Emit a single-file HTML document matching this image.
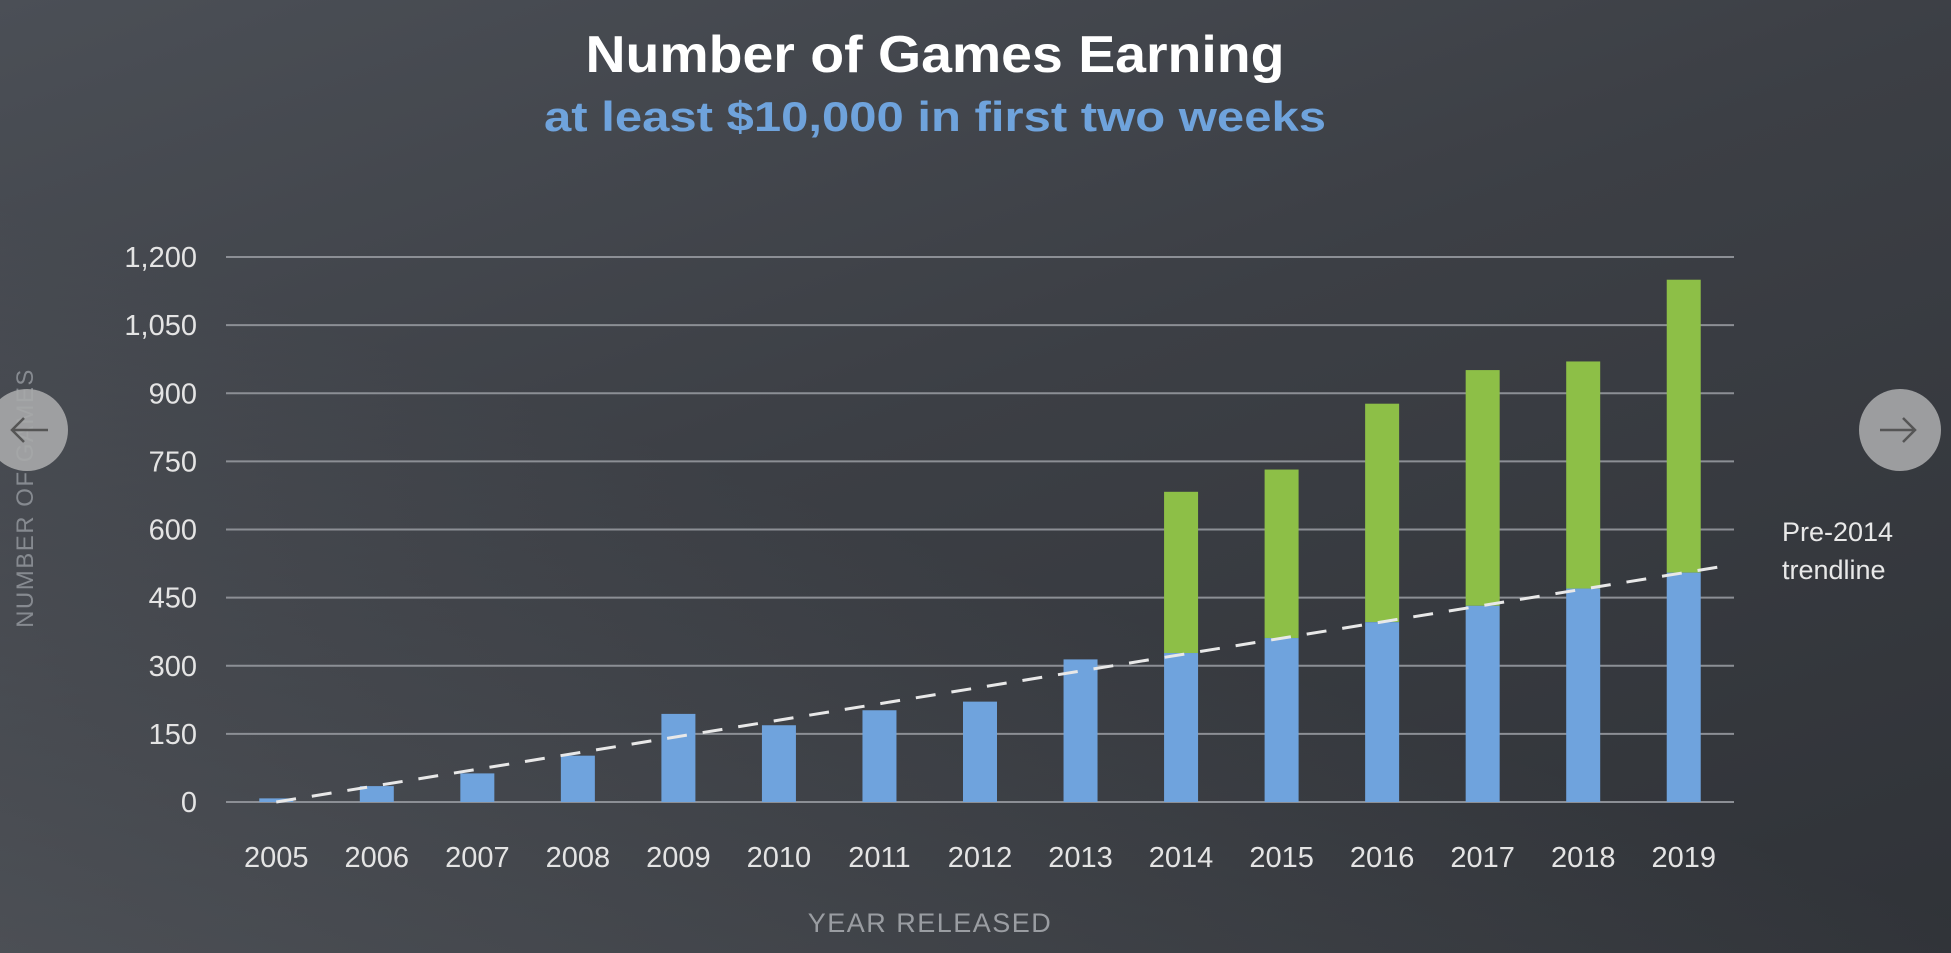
<!DOCTYPE html>
<html><head><meta charset="utf-8"><style>
html,body{margin:0;padding:0;width:1951px;height:953px;overflow:hidden}
body{background:linear-gradient(160deg,#4b4f56 0%,#3c3f45 45%,#303338 100%);font-family:"Liberation Sans",sans-serif}
.bg2{position:absolute;left:0;top:0;width:1951px;height:953px;background:linear-gradient(20deg,rgba(110,114,120,0.35) 0%,rgba(0,0,0,0) 45%)}
svg{position:absolute;left:0;top:0}
</style></head><body>
<div class="bg2"></div>
<svg id="chart" width="1951" height="953">
<text x="935" y="72" text-anchor="middle" font-size="52" font-weight="bold" fill="#ffffff" textLength="699" lengthAdjust="spacingAndGlyphs">Number of Games Earning</text>
<text x="935" y="131" text-anchor="middle" font-size="42" font-weight="bold" fill="#6fa3dc" textLength="782" lengthAdjust="spacingAndGlyphs">at least $10,000 in first two weeks</text>
<g id="grid"></g><g id="bars"></g><g id="trend"></g><g id="labels"></g>
<text transform="translate(33,498) rotate(-90)" text-anchor="middle" font-size="24" fill="#868a90" letter-spacing="1.5">NUMBER OF GAMES</text>
<text x="930" y="932" text-anchor="middle" font-size="27" fill="#9a9da2" letter-spacing="1.5">YEAR RELEASED</text>
<text x="1782" y="541" font-size="27" fill="#e8e8e8"><tspan x="1782">Pre-2014</tspan><tspan x="1782" dy="38">trendline</tspan></text>
<g><circle cx="27" cy="430" r="41" fill="#a7a8aa" opacity="0.9"/><path d="M48 430H12M24 418L12 430L24 442" stroke="#555" stroke-width="2.5" fill="none"/></g>
<g><circle cx="1900" cy="430" r="41" fill="#a7a8aa" opacity="0.9"/><path d="M1880 430H1915M1903 418L1915 430L1903 442" stroke="#555" stroke-width="2.5" fill="none"/></g>
</svg>
<script>
const years=["2005","2006","2007","2008","2009","2010","2011","2012","2013","2014","2015","2016","2017","2018","2019"];
const blueValues=[8,35,63,102,194,169,202,221,314,328,361,396,432,470,505];
const totalValues=[8,35,63,102,194,169,202,221,314,683,732,877,951,970,1150];
const yTicks=[0,150,300,450,600,750,900,1050,1200];
const yTickLabels=["0","150","300","450","600","750","900","1,050","1,200"];
const trendStart=[0,0];
const trendEnd=[14.45,521];
const NS="http://www.w3.org/2000/svg";
const x0=226,x1=1734,yBase=802,yTop=257,yMax=1200;
const band=(x1-x0)/years.length;
function xs(i){return x0+band*(i+0.5);}
function ys(v){return yBase-(yBase-yTop)*v/yMax;}
function mk(tag,attrs,parent){const e=document.createElementNS(NS,tag);for(const k in attrs)e.setAttribute(k,attrs[k]);document.getElementById(parent).appendChild(e);return e;}
yTicks.forEach((t,i)=>{
 const l=mk('line',{x1:x0,x2:x1,y1:ys(t),y2:ys(t),stroke:'#8c8f95','stroke-width':2},'grid');
 
 
 const tx=mk('text',{x:197,y:ys(t)+10,'text-anchor':'end','font-size':29,fill:'#e4e4e4'},'labels');
 tx.textContent=yTickLabels[i];
 
 
});
const bw=34;
years.forEach((y,i)=>{
 const cx=xs(i);
 if(totalValues[i]>blueValues[i]){
  const g=mk('rect',{x:cx-bw/2,y:ys(totalValues[i]),width:bw,height:ys(blueValues[i])-ys(totalValues[i]),fill:'#8dbf47'},'bars');
  
  
 }
 const b=mk('rect',{x:cx-bw/2,y:ys(blueValues[i]),width:bw,height:yBase-ys(blueValues[i]),fill:'#6fa3dd'},'bars');
 
 
 const tx=mk('text',{x:cx,y:867,'text-anchor':'middle','font-size':29,fill:'#e4e4e4'},'labels');
 tx.textContent=y;
 
 
});
const tl=mk('line',{x1:xs(trendStart[0]),y1:ys(trendStart[1]),x2:xs(trendEnd[0]),y2:ys(trendEnd[1]),stroke:'#e8e8e8','stroke-width':3,'stroke-dasharray':'20 16'},'trend');


</script>
</body></html>
